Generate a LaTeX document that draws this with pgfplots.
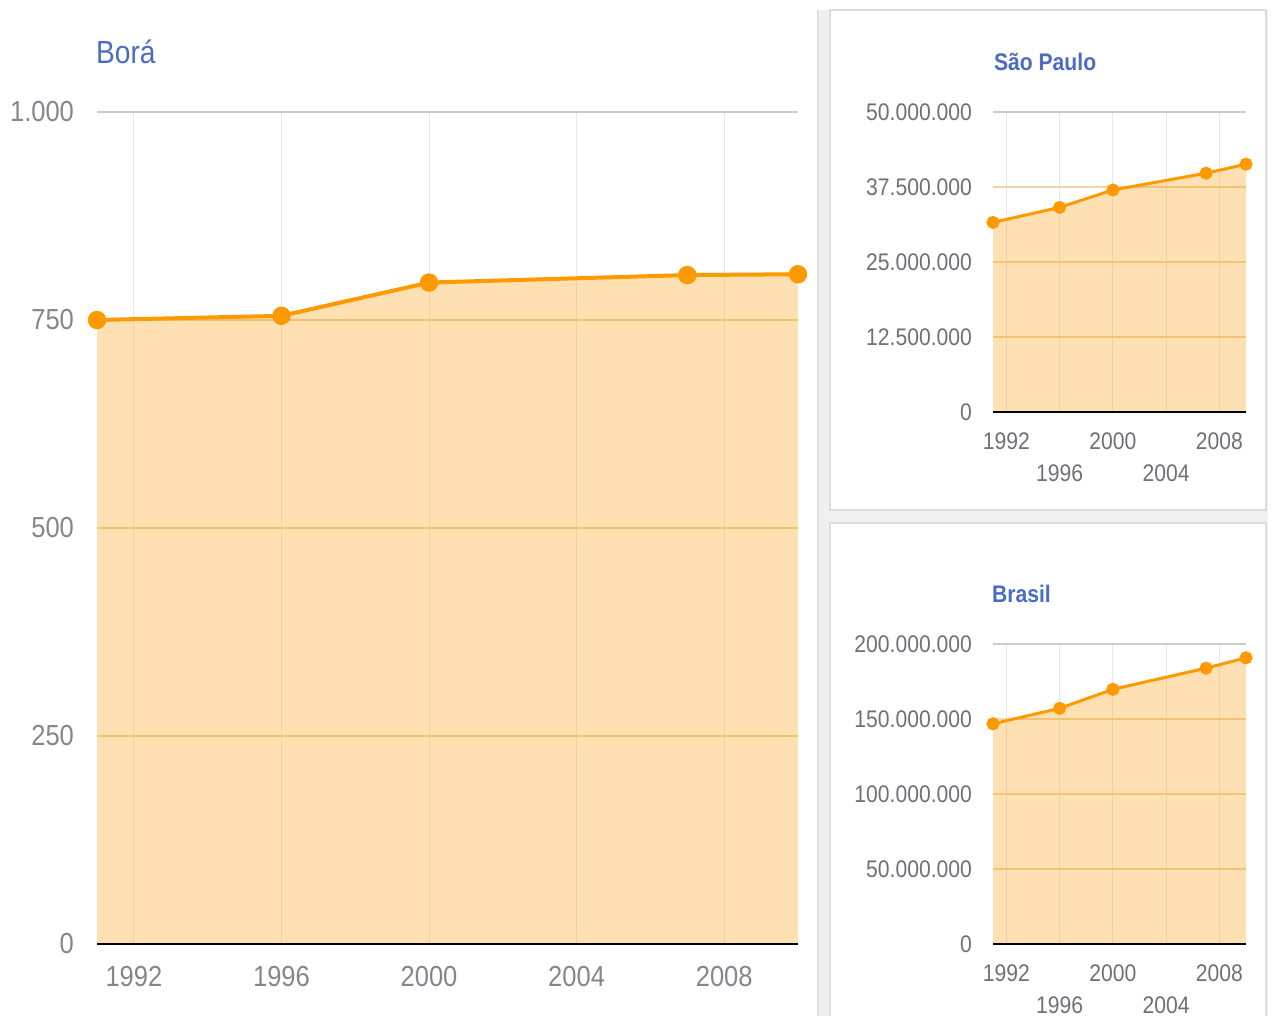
\documentclass[border=0pt]{standalone}
\usepackage{pgfplots}
\pgfplotsset{compat=1.18}
\usepackage{fontspec}
\setmainfont{Liberation Sans}[FakeStretch=0.88]
\definecolor{ora}{HTML}{FF9900}
\definecolor{grd}{HTML}{CCCCCC}
\definecolor{grdin}{HTML}{F0D4A8}
\definecolor{vgrd}{HTML}{E8E8E8}
\definecolor{tickA}{HTML}{858590}
\definecolor{tickB}{HTML}{707078}
\definecolor{ttl}{HTML}{4A6CC4}
\definecolor{panel}{HTML}{F0F0F0}
\definecolor{pborder}{HTML}{DDDDDD}

\pgfplotsset{
  gstyle/.style={
    scale only axis,
    axis line style={draw=none},
    major tick length=0pt,
    xmin=1991, xmax=2010,
    xtick={1992,1996,2000,2004,2008},
    ymajorgrids, xmajorgrids,
    major y grid style={grdin, line width=0.6pt},
    major x grid style={vgrd, line width=0.5pt},
    extra y tick style={major y grid style={grd, line width=0.6pt}, major grid style={grd, line width=0.6pt}},
    scaled y ticks=false,
    /pgf/number format/assume math mode=true,
    clip=false,
  },
}

\begin{document}
\begin{tikzpicture}
\useasboundingbox (0,0) rectangle (637.5pt,-508pt);
% side panels background
\fill[panel] (408.5pt,-5pt) rectangle (634pt,-508pt);
\draw[pborder, line width=1pt] (409pt,-5pt) -- (409pt,-508pt);
\draw[pborder, fill=white, line width=0.8pt] (415pt,-5pt) rectangle (633pt,-255pt);
\draw[pborder, fill=white, line width=0.8pt] (415pt,-261.5pt) rectangle (633pt,-512pt);

% Main chart: Bora
\begin{axis}[gstyle,
  at={(48.5pt,-472pt)}, anchor=south west,
  width=350.5pt, height=416pt,
  ymin=0, ymax=1000,
  ytick={0,250,500,750},
  yticklabels={0,250,500,750},
  extra y ticks={1000}, extra y tick labels={1.000},
  xticklabels={1992,1996,2000,2004,2008},
  yticklabel style={font=\fontsize{14.5pt}{16pt}\selectfont, text=tickA, xshift=-8pt},
  xticklabel style={font=\fontsize{14.5pt}{16pt}\selectfont, text=tickA, yshift=-7.5pt},
]
\addplot[draw=none, fill=ora, fill opacity=0.3]
  coordinates {(1991,750) (1996,755) (2000,795) (2007,804) (2010,805)} \closedcycle;
\addplot[black, line width=1.3pt] coordinates {(1991,0) (2010,0)};
\addplot[ora, line width=2pt, mark=*, mark size=3.6pt, mark options={fill=ora, draw=ora}]
  coordinates {(1991,750) (1996,755) (2000,795) (2007,804) (2010,805)};
\end{axis}
\node[anchor=base west, text=ttl, font=\fontsize{16pt}{18pt}\selectfont] at (44.5pt,-32pt) {Borá};

% Sao Paulo
\begin{axis}[gstyle,
  at={(496.5pt,-206pt)}, anchor=south west,
  width=126.5pt, height=150pt,
  ymin=0, ymax=50000000,
  ytick={0,12500000,25000000,37500000},
  yticklabels={0,12.500.000,25.000.000,37.500.000},
  extra y ticks={50000000}, extra y tick labels={50.000.000},
  xticklabels={{1992\\\phantom{0}},{\phantom{0}\\[2pt]1996},{2000\\\phantom{0}},{\phantom{0}\\[2pt]2004},{2008\\\phantom{0}}},
  yticklabel style={font=\fontsize{12pt}{14pt}\selectfont, text=tickB, xshift=-7pt},
  xticklabel style={font=\fontsize{12pt}{14pt}\selectfont, text=tickB, align=center, anchor=north, yshift=-7pt},
]
\addplot[draw=none, fill=ora, fill opacity=0.3]
  coordinates {(1991,31600000) (1996,34100000) (2000,37000000) (2007,39800000) (2010,41300000)} \closedcycle;
\addplot[black, line width=1.3pt] coordinates {(1991,0) (2010,0)};
\addplot[ora, line width=1.5pt, mark=*, mark size=2.5pt, mark options={fill=ora, draw=ora}]
  coordinates {(1991,31600000) (1996,34100000) (2000,37000000) (2007,39800000) (2010,41300000)};
\end{axis}
\node[anchor=base west, text=ttl, font=\bfseries\fontsize{12pt}{14pt}\selectfont] at (493.5pt,-35.5pt) {São Paulo};

% Brasil
\begin{axis}[gstyle,
  at={(496.5pt,-472pt)}, anchor=south west,
  width=126.5pt, height=150pt,
  ymin=0, ymax=200000000,
  ytick={0,50000000,100000000,150000000},
  yticklabels={0,50.000.000,100.000.000,150.000.000},
  extra y ticks={200000000}, extra y tick labels={200.000.000},
  xticklabels={{1992\\\phantom{0}},{\phantom{0}\\[2pt]1996},{2000\\\phantom{0}},{\phantom{0}\\[2pt]2004},{2008\\\phantom{0}}},
  yticklabel style={font=\fontsize{12pt}{14pt}\selectfont, text=tickB, xshift=-7pt},
  xticklabel style={font=\fontsize{12pt}{14pt}\selectfont, text=tickB, align=center, anchor=north, yshift=-7pt},
]
\addplot[draw=none, fill=ora, fill opacity=0.3]
  coordinates {(1991,146800000) (1996,157100000) (2000,169800000) (2007,183900000) (2010,190800000)} \closedcycle;
\addplot[black, line width=1.3pt] coordinates {(1991,0) (2010,0)};
\addplot[ora, line width=1.5pt, mark=*, mark size=2.5pt, mark options={fill=ora, draw=ora}]
  coordinates {(1991,146800000) (1996,157100000) (2000,169800000) (2007,183900000) (2010,190800000)};
\end{axis}
\node[anchor=base west, text=ttl, font=\bfseries\fontsize{12pt}{14pt}\selectfont] at (492.5pt,-301pt) {Brasil};
\end{tikzpicture}
\end{document}
